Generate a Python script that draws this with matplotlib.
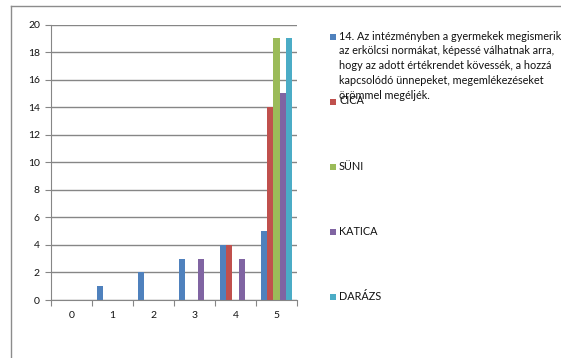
import numpy as np
import matplotlib.pyplot as plt
from matplotlib.lines import Line2D
from matplotlib.patches import Rectangle

categories = ['0', '1', '2', '3', '4', '5']
series_names = ['14. Az intézményben a gyermekek megismerik\n'
                'az erkölcsi normákat, képessé válhatnak arra,\n'
                'hogy az adott értékrendet kövessék, a hozzá\n'
                'kapcsolódó ünnepeket, megemlékezéseket\n'
                'örömmel megéljék.',
                'CICA', 'SÜNI', 'KATICA', 'DARÁZS']
kerdes = [0, 1, 2, 3, 4, 5]
cica = [0, 0, 0, 0, 4, 14]
suni = [0, 0, 0, 0, 0, 19]
katica = [0, 0, 0, 3, 3, 15]
darazs = [0, 0, 0, 0, 0, 19]
colors = ['#4F81BD', '#C0504D', '#9BBB59', '#8064A2', '#4BACC6']

plt.rcParams['font.family'] = ['Lato', 'DejaVu Sans']
W, H = 561, 358
fig = plt.figure(figsize=(W / 100, H / 100), dpi=100)
ax = fig.add_axes([51 / W, 1 - 300 / H, 246 / W, 275.5 / H])

x = np.arange(len(categories))
w = 1 / 6.5
all_series = [kerdes, cica, suni, katica, darazs]
for i, vals in enumerate(all_series):
    ax.bar(x + (i - 2) * w, vals, width=w, color=colors[i], zorder=3)

ax.set_xlim(-0.5, 5.5)
ax.set_ylim(0, 20)
ax.set_yticks(range(0, 21, 2))
ax.grid(axis='y', color='#868686', linewidth=1.0, zorder=0)
ax.set_xticks(np.arange(-0.5, 6, 1))
ax.set_xticklabels([])
ax.set_xticks(x, minor=True)
ax.set_xticklabels(categories, minor=True)
ax.tick_params(axis='x', which='minor', length=0, pad=8, labelsize=7.5, colors='#111111')
ax.tick_params(axis='x', which='major', length=4, color='#868686')
ax.tick_params(axis='y', length=4, color='#868686', labelsize=7.5, labelcolor='#111111', pad=4)
for s in ['top', 'right']:
    ax.spines[s].set_visible(False)
for s in ['left', 'bottom']:
    ax.spines[s].set_color('#868686')
    ax.spines[s].set_zorder(4)

# chart border (cropped at the right and bottom)
fig.add_artist(Line2D([11 / W, 1], [1 - 6 / H, 1 - 6 / H], color='#8c8c8c', lw=1))
fig.add_artist(Line2D([11 / W, 11 / W], [1 - 6 / H, 0], color='#8c8c8c', lw=1))

# legend, laid out like the original
leg_y = [37, 102, 167, 232, 297]
for i, name in enumerate(series_names):
    yy = leg_y[i]
    fig.add_artist(Rectangle((330 / W, 1 - (yy + 3) / H), 6 / W, 6 / H,
                             facecolor=colors[i], edgecolor='none'))
    fig.text(339 / W, 1 - (yy - 6.5) / H, name, fontsize=7.8, va='top', ha='left',
             linespacing=1.42, color='#111111')

fig.savefig('out.png', dpi=100)
